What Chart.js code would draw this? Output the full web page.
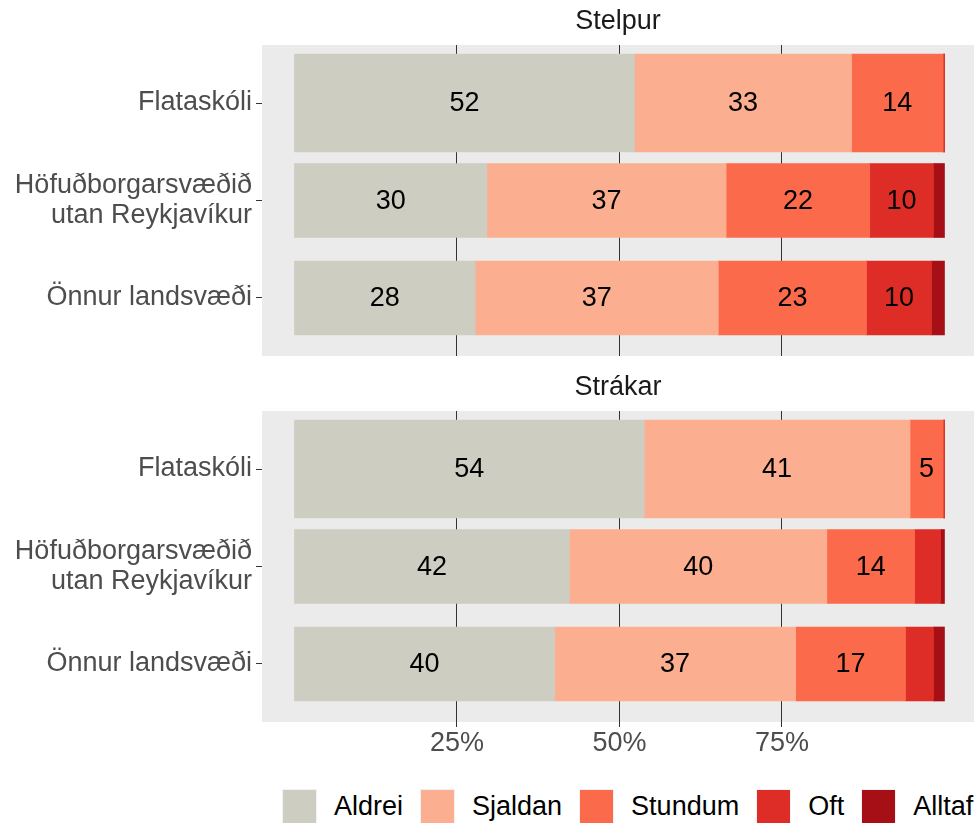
<!DOCTYPE html>
<html>
<head>
<meta charset="utf-8">
<script src="https://cdn.jsdelivr.net/npm/chart.js@4"></script>
<style>
  body { margin: 0; background: #fff; width: 974px; height: 823px; overflow: hidden; position: relative; font-family: "Liberation Sans", Arial, sans-serif; }
  canvas { position: absolute; left: 0; }
  #top { top: 0; }
  #bottom { top: 366px; }
  .legend { position: absolute; left: 282px; top: 789px; display: flex; align-items: center; font-size: 27px; color: #000; }
  .key { width: 33px; height: 33px; border: 1px solid #f2f2f2; margin-right: 17px; }
  .lab { margin-right: 17px; line-height: 35px; }
</style>
</head>
<body>
<canvas id="top" width="974" height="376"></canvas>
<canvas id="bottom" width="974" height="400"></canvas>
<div class="legend" id="legend"></div>
<script>
const groups = ['Flataskóli', ['Höfuðborgarsvæðið', 'utan Reykjavíkur'], 'Önnur landsvæði'];
const levels = ['Aldrei', 'Sjaldan', 'Stundum', 'Oft', 'Alltaf'];
const colors = ['#cdcdc1', '#fcae91', '#fb6a4a', '#de2d26', '#a50f15'];
const xTicks = [25, 50, 75];

// Stelpur (%), order: Flataskóli, Höfuðborgarsvæðið, Önnur landsvæði
const stelpurAldrei = [52.3, 29.6, 27.8];
const stelpurSjaldan = [33.4, 36.8, 37.4];
const stelpurStundum = [14.1, 22.1, 22.8];
const stelpurOft = [0.2, 9.8, 10.0];
const stelpurAlltaf = [0.0, 1.7, 2.0];

// Strákar (%)
const strakarAldrei = [53.8, 42.3, 40.0];
const strakarSjaldan = [40.9, 39.6, 37.1];
const strakarStundum = [5.1, 13.5, 16.9];
const strakarOft = [0.2, 4.0, 4.3];
const strakarAlltaf = [0.0, 0.6, 1.7];

const FONT = '"Liberation Sans", Arial, sans-serif';

function buildDatasets(series) {
  let ds = [];
  series.forEach((vals, li) => {
    // Flataskóli is drawn thicker than the others
    ds.push({
      label: levels[li],
      data: [{ x: vals[0], y: 1 }],
      backgroundColor: colors[li],
      barThickness: 98,
      stack: 'all',
      borderWidth: 0
    });
    ds.push({
      label: levels[li],
      data: [{ x: vals[1], y: 2 }, { x: vals[2], y: 3 }],
      backgroundColor: colors[li],
      barThickness: 74,
      stack: 'all',
      borderWidth: 0
    });
  });
  return ds;
}

const facetPlugin = {
  id: 'facet',
  beforeDraw(chart) {
    const ctx = chart.ctx, a = chart.chartArea;
    ctx.save();
    ctx.fillStyle = '#ebebeb';
    ctx.fillRect(a.left, a.top, a.right - a.left, a.bottom - a.top);
    ctx.fillStyle = '#1a1a1a';
    ctx.font = '27px ' + FONT;
    ctx.textAlign = 'center';
    ctx.textBaseline = 'middle';
    ctx.fillText(chart.options.plugins.facet.title, (a.left + a.right) / 2, a.top - 23);
    ctx.restore();
  },
  afterDatasetsDraw(chart) {
    const ctx = chart.ctx;
    ctx.save();
    ctx.fillStyle = '#000';
    ctx.font = '27px ' + FONT;
    ctx.textAlign = 'center';
    ctx.textBaseline = 'middle';
    chart.data.datasets.forEach((ds, di) => {
      const meta = chart.getDatasetMeta(di);
      meta.data.forEach((bar, i) => {
        const v = Math.round(ds.data[i].x);
        if (v < 5) return;
        const p = bar.getProps(['x', 'y', 'base'], true);
        ctx.fillText(String(v), (p.x + p.base) / 2, p.y + 1);
      });
    });
    ctx.restore();
  }
};

function makeChart(id, title, series, showX) {
  return new Chart(document.getElementById(id), {
    type: 'bar',
    data: { datasets: buildDatasets(series) },
    plugins: [facetPlugin],
    options: {
      indexAxis: 'y',
      responsive: false,
      animation: false,
      devicePixelRatio: 1,
      layout: { padding: { top: 45, right: 0, left: 0, bottom: 0 } },
      plugins: {
        legend: { display: false },
        tooltip: { enabled: false },
        facet: { title: title }
      },
      scales: {
        x: {
          type: 'linear',
          stacked: true,
          min: -5,
          max: 104.54,
          afterBuildTicks: s => { s.ticks = xTicks.map(v => ({ value: v })); },
          afterFit: s => { s.height = showX ? 44 : 20; },
          border: { display: false },
          grid: { color: '#333333', lineWidth: 1, drawTicks: showX, tickLength: 5, tickColor: '#333333' },
          ticks: {
            display: showX,
            padding: 0,
            color: '#4d4d4d',
            font: { family: FONT, size: 27 },
            callback: v => v + '%'
          }
        },
        y: {
          type: 'linear',
          reverse: true,
          offset: false,
          min: 0.405,
          max: 3.595,
          afterBuildTicks: s => { s.ticks = groups.map((g, i) => ({ value: i + 1 })); },
          afterFit: s => { s.width = 262; },
          border: { display: false },
          grid: { offset: false, drawOnChartArea: false, drawTicks: true, tickLength: 6, tickColor: '#333333' },
          ticks: {
            autoSkip: false,
            padding: 4,
            color: '#4d4d4d',
            font: { family: FONT, size: 27, lineHeight: 1.11 },
            callback: v => groups[Math.round(v) - 1]
          }
        }
      }
    }
  });
}

makeChart('top', 'Stelpur', [stelpurAldrei, stelpurSjaldan, stelpurStundum, stelpurOft, stelpurAlltaf], false);
makeChart('bottom', 'Strákar', [strakarAldrei, strakarSjaldan, strakarStundum, strakarOft, strakarAlltaf], true);

// legend
const legend = document.getElementById('legend');
levels.forEach((l, i) => {
  let key = document.createElement('span');
  key.className = 'key';
  key.style.background = colors[i];
  let txt = document.createElement('span');
  txt.className = 'lab';
  txt.textContent = l;
  legend.appendChild(key);
  legend.appendChild(txt);
});
</script>
</body>
</html>
